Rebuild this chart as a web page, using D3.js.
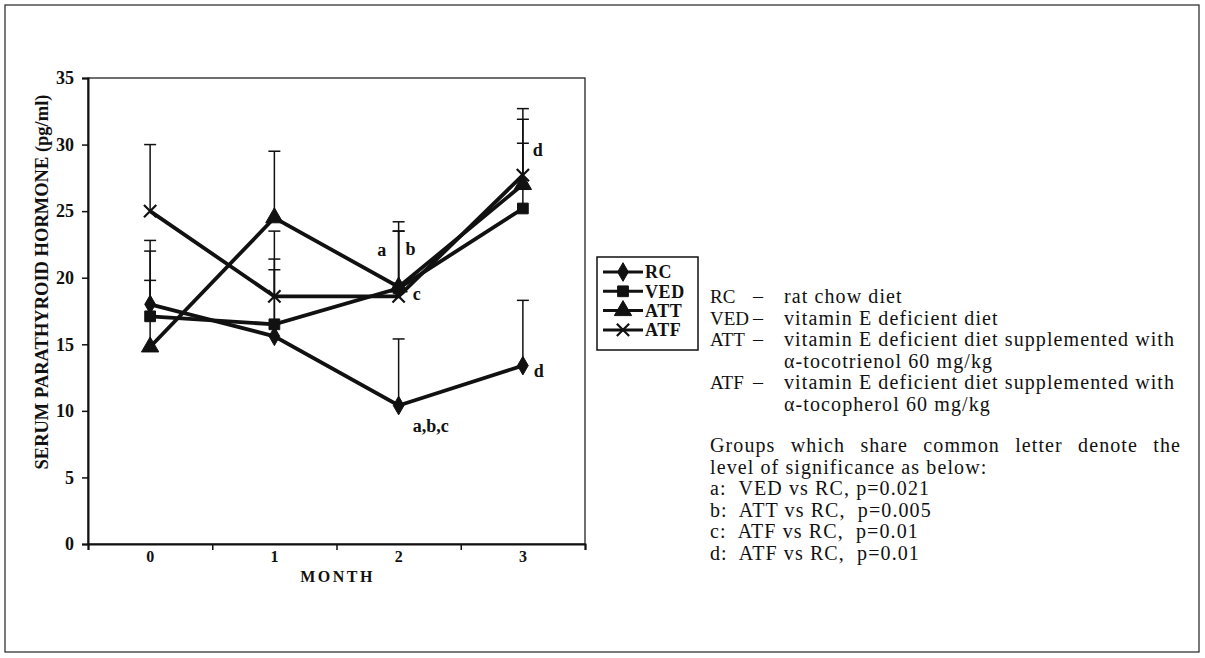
<title>Serum PTH</title>
<body style="margin:0;background:#fff"></body>
<style>
  text { font-family: "Liberation Serif", "Times New Roman", serif; fill: #111; }
  .bold { font-weight: bold; }
  .axis path, .axis line { stroke: #111; }
</style>
<script src="https://d3js.org/d3.v7.min.js"></script>
<script>
// data
months = ['0', '1', '2', '3']
groups = ['RC', 'VED', 'ATT', 'ATF']
rc  = [18.0, 15.6, 10.4, 13.4]
ved = [17.1, 16.5, 19.2, 25.2]
att = [14.8, 24.5, 19.3, 27.0]
atf = [25.0, 18.6, 18.6, 27.7]
// upper error bar lengths
rcErr  = [4.0, 5.0, 5.0, 4.9]
vedErr = [5.7, 4.9, 4.3, 4.9]
attErr = [5.0, 5.0, 4.9, 4.9]
atfErr = [5.0, 4.9, 4.9, 5.0]
yTicks = [0, 5, 10, 15, 20, 25, 30, 35]
// significance letters: [month, value, text, dx]
letters = [
  ['2', 22.1, 'a', -17], ['2', 22.2, 'b', 12], ['2', 18.8, 'c', 18],
  ['3', 29.6, 'd', 15], ['2', 8.9, 'a,b,c', 14], ['3', 13.0, 'd', 16]
]
keyLines = [
  ['RC', 'rat chow diet'],
  ['VED', 'vitamin E deficient diet'],
  ['ATT', 'vitamin E deficient diet supplemented with'],
  ['', '\u03B1-tocotrienol 60 mg/kg'],
  ['ATF', 'vitamin E deficient diet supplemented with'],
  ['', '\u03B1-tocopherol 60 mg/kg']
]
notes = [
  'level of significance as below:',
  'a:  VED vs RC, p=0.021',
  'b:  ATT vs RC,  p=0.005',
  'c:  ATF vs RC,  p=0.01',
  'd:  ATF vs RC,  p=0.01'
]
justified = 'Groups which share common letter denote the'

series = [
  {name: 'RC', values: rc, err: rcErr, shape: d3.symbolDiamond},
  {name: 'VED', values: ved, err: vedErr, shape: d3.symbolSquare},
  {name: 'ATT', values: att, err: attErr, shape: d3.symbolTriangle},
  {name: 'ATF', values: atf, err: atfErr, shape: d3.symbolX}
]

W = 1205, H = 658
svg = d3.select('body').append('svg').attr('width', W).attr('height', H)

// outer frame
svg.append('rect').attr('x', 5).attr('y', 5).attr('width', W - 11).attr('height', H - 11)
  .attr('fill', 'none').attr('stroke', '#222').attr('stroke-width', 1.2)

L = 88, R = 585, T = 78, B = 544
x = d3.scaleBand().domain(months).range([L, R])
xb = d3.scaleLinear().domain([0, 4]).range([L, R])
y = d3.scaleLinear().domain([0, 35]).range([B, T])

// plot frame
svg.append('rect').attr('x', L).attr('y', T).attr('width', R - L).attr('height', B - T)
  .attr('fill', 'none').attr('stroke', '#222').attr('stroke-width', 1.3)

yAxis = svg.append('g').attr('class', 'axis').attr('transform', `translate(${L},0)`)
  .call(d3.axisLeft(y).tickValues(yTicks).tickSize(6).tickPadding(8))
yAxis.select('.domain').attr('stroke-width', 2)
yAxis.selectAll('line').attr('stroke-width', 1.5)
yAxis.selectAll('text').attr('class', 'bold').style('font-size', '18px')
  .style('font-family', '"Liberation Serif", serif')

xTickG = svg.append('g').attr('class', 'axis').attr('transform', `translate(0,${B})`)
  .call(d3.axisBottom(xb).tickValues([0, 1, 2, 3, 4]).tickSize(6).tickFormat(''))
xTickG.select('.domain').attr('stroke-width', 2)
xTickG.selectAll('line').attr('stroke-width', 1.5)

xLab = svg.append('g').attr('transform', `translate(0,${B})`)
  .call(d3.axisBottom(x).tickSize(0).tickPadding(7))
xLab.select('.domain').remove()
xLab.selectAll('text').attr('class', 'bold').style('font-size', '16px')
  .style('font-family', '"Liberation Serif", serif')

svg.append('text').attr('class', 'bold').attr('x', (L + R) / 2 + 1).attr('y', 582)
  .attr('text-anchor', 'middle').style('font-size', '16px').style('letter-spacing', '2.5px')
  .text('MONTH')

svg.append('text').attr('class', 'bold')
  .attr('transform', 'translate(48,282) rotate(-90)')
  .attr('text-anchor', 'middle').style('font-size', '18.5px')
  .text('SERUM PARATHYROID HORMONE (pg/ml)')

cx = m => x(m) + x.bandwidth() / 2

// error bars
series.forEach(s => {
  months.forEach((m, i) => {
    const top = y(s.values[i] + s.err[i])
    svg.append('line').attr('x1', cx(m)).attr('x2', cx(m))
      .attr('y1', y(s.values[i])).attr('y2', top).attr('stroke', '#111').attr('stroke-width', 1.5)
    svg.append('line').attr('x1', cx(m) - 6).attr('x2', cx(m) + 6)
      .attr('y1', top).attr('y2', top).attr('stroke', '#111').attr('stroke-width', 1.5)
  })
})

line = d3.line().x((d, i) => cx(months[i])).y(d => y(d))
series.forEach(s => {
  svg.append('path').datum(s.values).attr('d', line)
    .attr('fill', 'none').attr('stroke', '#111').attr('stroke-width', 3.8)
})

function marker(g, s, px, py) {
  const isX = s.shape === d3.symbolX
  const size = s.shape === d3.symbolTriangle ? 130 : s.shape === d3.symbolSquare ? 115 : isX ? 100 : 100
  g.append('path').attr('d', d3.symbol().type(s.shape).size(size)())
    .attr('transform', `translate(${px},${py})`)
    .attr('fill', isX ? 'none' : '#111').attr('stroke', '#111')
    .attr('stroke-width', isX ? 2.2 : 1)
}
series.forEach(s => {
  s.values.forEach((v, i) => marker(svg, s, cx(months[i]), y(v)))
})

letters.forEach(([m, v, t, dx]) => {
  svg.append('text').attr('class', 'bold').attr('x', cx(m) + dx).attr('y', y(v))
    .attr('dy', '0.35em').attr('text-anchor', t.length > 1 ? 'start' : 'middle')
    .style('font-size', '18px').text(t)
})

// legend
leg = svg.append('g')
leg.append('rect').attr('x', 597).attr('y', 257).attr('width', 101).attr('height', 93)
  .attr('fill', '#fff').attr('stroke', '#111').attr('stroke-width', 1.5)
series.forEach((s, i) => {
  const ly = 272 + i * 19.3
  leg.append('line').attr('x1', 603).attr('x2', 643).attr('y1', ly).attr('y2', ly)
    .attr('stroke', '#111').attr('stroke-width', 3)
  marker(leg, s, 623, ly)
  leg.append('text').attr('class', 'bold').attr('x', 645).attr('y', ly).attr('dy', '0.36em')
    .style('font-size', '18px').style('letter-spacing', '0.6px').text(s.name)
})

// key text on the right
fs = '20px'
ls = '1.1px'
keyLines.forEach(([k, d], i) => {
  const ty = 303 + i * 21.5
  if (k) {
    svg.append('text').attr('x', 710).attr('y', ty).style('font-size', '19px').text(k)
    svg.append('text').attr('x', 753).attr('y', ty).style('font-size', fs).text('\u2013')
  }
  svg.append('text').attr('x', 784).attr('y', ty).style('font-size', fs).style('letter-spacing', ls).text(d)
})

words = justified.split(' ')
jy = 452
wNodes = words.map(w => svg.append('text').attr('y', jy).style('font-size', fs)
  .style('letter-spacing', ls).text(w))
total = d3.sum(wNodes, n => n.node().getComputedTextLength())
gap = (1181 - 710 - total) / (words.length - 1)
let cxw = 710
wNodes.forEach(n => { n.attr('x', cxw); cxw += n.node().getComputedTextLength() + gap })

notes.forEach((t, i) => {
  svg.append('text').attr('x', 710).attr('y', jy + 21.5 * (i + 1)).style('font-size', fs)
    .style('letter-spacing', ls).style('white-space', 'pre').text(t)
})
</script>
